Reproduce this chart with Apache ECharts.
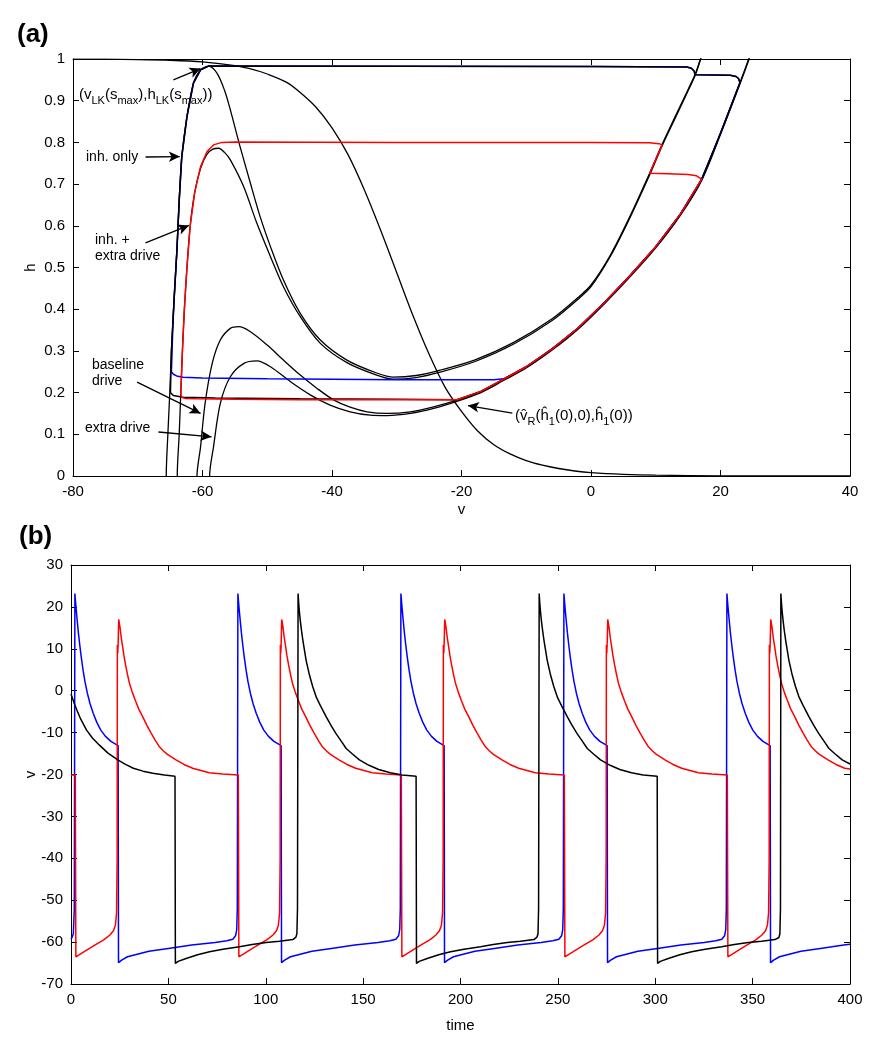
<!DOCTYPE html>
<html><head><meta charset="utf-8">
<script src="https://cdn.jsdelivr.net/npm/echarts/dist/echarts.min.js"></script>
<style>html,body{margin:0;padding:0;background:#fff}#c{width:884px;height:1050px}</style>
</head><body><div id="c"></div>
<script>
// ---------- Panel (a): phase plane (v, h) ----------
const hInfCurve = [[-80,0.9998],[-75,0.9994],[-70,0.9987],[-65,0.997],[-60,0.993],[-55,0.984],[-52,0.974],[-50,0.964],[-47,0.944],[-45,0.921],[-42.5,0.885],[-40,0.835],[-37.5,0.77],[-35,0.686],[-32.5,0.59],[-30,0.4875],[-27.5,0.385],[-25,0.292],[-22.5,0.212],[-20,0.155],[-17.5,0.108],[-15,0.075],[-12.5,0.053],[-10,0.037],[-7.5,0.026],[-5,0.018],[-2.5,0.012],[0,0.008],[5,0.004],[10,0.002],[20,0.0005],[30,0.0001],[40,0]];

const nullInhOnly = [[-65.6,-0.02],[-65.6,0],[-65.35,0.1],[-65.05,0.2],[-64.8,0.3],[-64.4,0.42],[-63.95,0.542],[-63.6,0.66],[-63.2,0.766],[-62.4,0.862],[-61.4,0.942],[-60.3,0.974],[-59.06,0.983],[-57.77,0.966],[-56.6,0.925],[-55.7,0.878],[-54.2,0.79],[-52.6,0.702],[-51.1,0.622],[-49.5,0.55],[-47.5,0.47],[-44.9,0.39],[-41.8,0.326],[-37.7,0.278],[-33.1,0.247],[-30.5,0.237],[-27,0.241],[-23.3,0.254],[-18,0.278],[-12,0.32],[-6,0.377],[-2,0.428],[0,0.458],[3,0.53],[6,0.622],[9,0.724],[11,0.796],[13,0.862],[15,0.927],[16.1,0.964],[16.9,1.0],[17.5,1.03]];

const nullInhExtra = [[-63.9,-0.02],[-63.9,0],[-63.6,0.1],[-63.35,0.2],[-63.1,0.3],[-62.8,0.4],[-62.4,0.5],[-61.9,0.6],[-61.2,0.68],[-60.3,0.738],[-59.3,0.772],[-58.4,0.784],[-57.5,0.786],[-56.6,0.776],[-55.7,0.758],[-53.65,0.694],[-51.6,0.606],[-49.5,0.526],[-47.5,0.454],[-44.9,0.382],[-41.8,0.318],[-37.7,0.272],[-33.1,0.242],[-30.5,0.232],[-27,0.236],[-23.3,0.249],[-18,0.274],[-12,0.316],[-6,0.373],[-2,0.424],[0,0.454],[3,0.527],[6,0.619],[9,0.72],[11,0.792],[13,0.858],[15,0.924],[16.1,0.961],[16.9,0.998],[17.5,1.03]];

const nullBaseline = [[-60.85,-0.02],[-60.85,0],[-60.3,0.07],[-59.6,0.174],[-58.5,0.27],[-57.25,0.326],[-55.7,0.354],[-54.4,0.358],[-52.6,0.346],[-50,0.314],[-47.5,0.278],[-44.9,0.242],[-42.3,0.21],[-39.7,0.182],[-37.2,0.165],[-34.6,0.154],[-31.5,0.15],[-27.9,0.154],[-24.3,0.166],[-20.7,0.182],[-17,0.203],[-13.5,0.232],[-10,0.262],[-6,0.305],[-2,0.355],[2,0.415],[6,0.48],[10,0.55],[13.8,0.628],[17.1,0.712],[20,0.822],[23,0.943],[24.35,1.0],[25,1.03]];

const nullExtra = [[-58.9,-0.02],[-58.9,0],[-58.3,0.07],[-57.25,0.174],[-55.7,0.238],[-53.6,0.27],[-51.6,0.276],[-49.5,0.262],[-46.4,0.226],[-43.3,0.194],[-40.3,0.17],[-37.2,0.154],[-34.1,0.146],[-31.5,0.145],[-27.9,0.15],[-24.3,0.162],[-20.7,0.179],[-17,0.2],[-13.5,0.229],[-10,0.259],[-6,0.302],[-2,0.352],[2,0.412],[6,0.477],[10,0.547],[13.8,0.625],[17.1,0.709],[20,0.819],[23,0.94],[24.35,0.997],[25,1.03]];

const trajBlueA = [[-64.8,0.25],[-64.6,0.35],[-64.4,0.42],[-63.95,0.542],[-63.6,0.66],[-63.2,0.766],[-62.4,0.862],[-61.4,0.942],[-60.3,0.974],[-59.06,0.983],[0,0.982],[14.8,0.981],[15.5,0.978],[15.9,0.972],[16.1,0.962],[21.5,0.961],[22.4,0.958],[22.8,0.953],[23,0.943],[20,0.822],[17.1,0.712],[13.8,0.628],[10,0.55],[6,0.48],[2,0.415],[-2,0.355],[-6,0.305],[-10,0.262],[-12,0.245],[-13.5,0.233],[-15,0.231],[-30,0.231],[-50,0.233],[-60,0.235],[-63,0.237],[-64,0.24],[-64.5,0.244],[-64.8,0.25]];

const trajBlackA = [[-64.95,0.2],[-64.8,0.3],[-64.4,0.42],[-63.95,0.542],[-63.6,0.66],[-63.2,0.766],[-62.4,0.862],[-61.4,0.942],[-60.3,0.974],[-59.06,0.983],[0,0.982],[14.8,0.981],[15.5,0.978],[15.9,0.972],[16.1,0.962],[21.5,0.961],[22.4,0.958],[22.8,0.953],[23,0.943],[20,0.822],[17.1,0.712],[13.8,0.628],[10,0.55],[6,0.48],[2,0.415],[-2,0.355],[-6,0.305],[-10,0.262],[-13.5,0.232],[-17,0.203],[-20.7,0.183],[-30,0.184],[-45,0.185],[-58,0.187],[-63,0.189],[-64.5,0.193],[-64.95,0.2]];

const trajRedA = [[-63.3,0.19],[-63.35,0.2],[-63.1,0.3],[-62.8,0.4],[-62.4,0.5],[-61.9,0.6],[-61.2,0.68],[-60.3,0.742],[-59.3,0.778],[-58.3,0.794],[-57,0.8],[-55,0.801],[-30,0.8],[0,0.8],[9,0.799],[10.5,0.797],[11,0.794],[9.05,0.726],[12,0.725],[15,0.723],[16.3,0.72],[17.1,0.712],[13.8,0.628],[10,0.55],[6,0.48],[2,0.415],[-2,0.355],[-6,0.305],[-10,0.262],[-13.5,0.232],[-17,0.203],[-20.7,0.183],[-30,0.183],[-45,0.183],[-55,0.184],[-61,0.185],[-62.6,0.186],[-63.1,0.188],[-63.3,0.19]];

// arrow annotations [from, to] in (v, h)
const arrowsA = [
  [[-64.5,0.950],[-60.3,0.977]],
  [[-68.8,0.765],[-63.5,0.766]],
  [[-68.8,0.559],[-62.1,0.601]],
  [[-70.1,0.225],[-60.3,0.150]],
  [[-66.8,0.1055],[-58.6,0.094]],
  [[-12.15,0.151],[-19.0,0.169]]
];

// ---------- Panel (b): time courses ----------
const vBlue = [[0,-59.3],[0.6,-58.8],[1.2,-58],[1.7,-52],
[2.0,23.2],[2.3,21.4],[2.7,19.2],[3.2,16.7],[3.8,13.8],[4.5,10.9],[5.3,7.9],[6.2,4.9],[7.2,2.1],[8.4,-0.6],[9.8,-3.1],[11.4,-5.4],[13.2,-7.5],[15.3,-9.4],[17.7,-10.9],[20.5,-12.1],[24.2,-13.1],
[24.4,-64.9],[26,-64.3],[29,-63.5],[34,-62.9],[40,-62.2],[50,-61.5],[62,-60.7],[74,-60.1],[80,-59.7],[83.1,-59.3],[84.5,-58.5],[85.1,-57],[85.4,-52],
[85.7,23.2],[86.0,21.4],[86.4,19.2],[86.9,16.7],[87.5,13.8],[88.2,10.9],[89.0,7.9],[89.9,4.9],[90.9,2.1],[92.1,-0.6],[93.5,-3.1],[95.1,-5.4],[96.9,-7.5],[99.0,-9.4],[101.4,-10.9],[104.2,-12.1],[107.9,-13.1],
[108.1,-64.9],[109.7,-64.3],[112.7,-63.5],[117.7,-62.9],[123.7,-62.2],[133.7,-61.5],[145.7,-60.7],[157.7,-60.1],[163.7,-59.7],[166.8,-59.3],[168.2,-58.5],[168.8,-57],[169.1,-52],
[169.4,23.2],[169.7,21.4],[170.1,19.2],[170.6,16.7],[171.2,13.8],[171.9,10.9],[172.7,7.9],[173.6,4.9],[174.6,2.1],[175.8,-0.6],[177.2,-3.1],[178.8,-5.4],[180.6,-7.5],[182.7,-9.4],[185.1,-10.9],[187.9,-12.1],[191.6,-13.1],
[191.8,-64.9],[193.4,-64.3],[196.4,-63.5],[201.4,-62.9],[207.4,-62.2],[217.4,-61.5],[229.4,-60.7],[241.4,-60.1],[247.4,-59.7],[250.5,-59.3],[251.9,-58.5],[252.5,-57],[252.8,-52],
[253.1,23.2],[253.4,21.4],[253.8,19.2],[254.3,16.7],[254.9,13.8],[255.6,10.9],[256.4,7.9],[257.3,4.9],[258.3,2.1],[259.5,-0.6],[260.9,-3.1],[262.5,-5.4],[264.3,-7.5],[266.4,-9.4],[268.8,-10.9],[271.6,-12.1],[275.3,-13.1],
[275.5,-64.9],[277.1,-64.3],[280.1,-63.5],[285.1,-62.9],[291.1,-62.2],[301.1,-61.5],[313.1,-60.7],[325.1,-60.1],[331.1,-59.7],[334.2,-59.3],[335.6,-58.5],[336.2,-57],[336.5,-52],
[336.8,23.2],[337.1,21.4],[337.5,19.2],[338.0,16.7],[338.6,13.8],[339.3,10.9],[340.1,7.9],[341.0,4.9],[342.0,2.1],[343.2,-0.6],[344.6,-3.1],[346.2,-5.4],[348.0,-7.5],[350.1,-9.4],[352.5,-10.9],[355.3,-12.1],[359.0,-13.1],
[359.2,-64.9],[360.8,-64.3],[363.8,-63.5],[368.8,-62.9],[374.8,-62.2],[384.8,-61.5],[396.8,-60.7],[400,-60.5]];

const vRed = [[0,-20.1],[2.2,-20.1],[2.5,-63.5],
[7,-62.2],[12,-60.8],[17,-59.4],[20,-58.3],[21.8,-57.3],[22.8,-56],[23.4,-53],[23.7,-40],[23.8,10.9],[24.0,8.9],[24.2,11],[24.5,17.0],
[25.2,15],[25.8,12.7],[26.5,10.5],[27.2,8.3],[28,6.2],[29,3.9],[30,1.8],[31.5,-0.4],[33,-2.3],[34.8,-4.4],[36.8,-6.2],[38.9,-8.2],[41,-10],[43.2,-11.8],[45.4,-13.4],[47.5,-14.4],[49.5,-15.2],[53.9,-16.5],[58,-17.6],[62.5,-18.5],[71,-19.6],[78,-19.9],[85.9,-20.1],[86.2,-63.5],
[90.7,-62.2],[95.7,-60.8],[100.7,-59.4],[103.7,-58.3],[105.5,-57.3],[106.5,-56],[107.1,-53],[107.4,-40],[107.5,10.9],[107.7,8.9],[107.9,11],[108.2,17.0],
[108.9,15],[109.5,12.7],[110.2,10.5],[110.9,8.3],[111.7,6.2],[112.7,3.9],[113.7,1.8],[115.2,-0.4],[116.7,-2.3],[118.5,-4.4],[120.5,-6.2],[122.6,-8.2],[124.7,-10],[126.9,-11.8],[129.1,-13.4],[131.2,-14.4],[133.2,-15.2],[137.6,-16.5],[141.7,-17.6],[146.2,-18.5],[154.7,-19.6],[161.7,-19.9],[169.6,-20.1],[169.9,-63.5],
[174.4,-62.2],[179.4,-60.8],[184.4,-59.4],[187.4,-58.3],[189.2,-57.3],[190.2,-56],[190.8,-53],[191.1,-40],[191.2,10.9],[191.4,8.9],[191.6,11],[191.9,17.0],
[192.6,15],[193.2,12.7],[193.9,10.5],[194.6,8.3],[195.4,6.2],[196.4,3.9],[197.4,1.8],[198.9,-0.4],[200.4,-2.3],[202.2,-4.4],[204.2,-6.2],[206.3,-8.2],[208.4,-10],[210.6,-11.8],[212.8,-13.4],[214.9,-14.4],[216.9,-15.2],[221.3,-16.5],[225.4,-17.6],[229.9,-18.5],[238.4,-19.6],[245.4,-19.9],[253.3,-20.1],[253.6,-63.5],
[258.1,-62.2],[263.1,-60.8],[268.1,-59.4],[271.1,-58.3],[272.9,-57.3],[273.9,-56],[274.5,-53],[274.8,-40],[274.9,10.9],[275.1,8.9],[275.3,11],[275.6,17.0],
[276.3,15],[276.9,12.7],[277.6,10.5],[278.3,8.3],[279.1,6.2],[280.1,3.9],[281.1,1.8],[282.6,-0.4],[284.1,-2.3],[285.9,-4.4],[287.9,-6.2],[290,-8.2],[292.1,-10],[294.3,-11.8],[296.5,-13.4],[298.6,-14.4],[300.6,-15.2],[305,-16.5],[309.1,-17.6],[313.6,-18.5],[322.1,-19.6],[329.1,-19.9],[337.0,-20.1],[337.3,-63.5],
[341.8,-62.2],[346.8,-60.8],[351.8,-59.4],[354.8,-58.3],[356.6,-57.3],[357.6,-56],[358.2,-53],[358.5,-40],[358.6,10.9],[358.8,8.9],[359.0,11],[359.3,17.0],
[360,15],[360.6,12.7],[361.3,10.5],[362,8.3],[362.8,6.2],[363.8,3.9],[364.8,1.8],[366.3,-0.4],[367.8,-2.3],[369.6,-4.4],[371.6,-6.2],[373.7,-8.2],[375.8,-10],[378,-11.8],[380.2,-13.4],[382.3,-14.4],[384.3,-15.2],[388.7,-16.5],[392.8,-17.6],[397.3,-18.5],[400,-18.7]];

const vBlack = [[0,-0.8],[1.5,-2.8],[3,-4.6],[5,-6.8],[8,-9.4],[11,-11.3],[14.6,-13],[19,-14.9],[24,-16.5],[28,-17.6],[32,-18.5],[37,-19.2],[42,-19.7],[48,-20.1],[53.4,-20.4],[53.6,-65.1],
[55,-64.6],[59.1,-63.9],[65,-63.0],[71.1,-62.3],[78,-61.7],[86.5,-61.1],[93,-60.6],[100.2,-60.1],[107,-59.8],[113.9,-59.4],[115.5,-58.8],[116.0,-58],[116.3,-52],
[116.6,23.2],[116.9,21],[117.3,18.7],[117.8,16.5],[118.4,14.2],[119.1,11.9],[119.9,9.6],[120.7,7.3],[122.3,4],[124.1,1.0],[126,-1.6],[128,-3.5],[131,-6.2],[133.5,-8.3],[136,-10.2],[139,-12.2],[141.3,-13.8],[144.5,-15.1],[148.1,-16.5],[153,-17.8],[158,-18.8],[164,-19.6],[170,-20.1],[177.2,-20.4],[177.4,-65.1],
[178.8,-64.6],[182.9,-63.9],[188.8,-63.0],[194.9,-62.3],[201.8,-61.7],[210.3,-61.1],[216.8,-60.6],[224.0,-60.1],[230.8,-59.8],[237.7,-59.4],[239.3,-58.8],[239.8,-58],[240.1,-52],
[240.4,23.2],[240.7,21],[241.1,18.7],[241.6,16.5],[242.2,14.2],[242.9,11.9],[243.7,9.6],[244.5,7.3],[246.1,4],[247.9,1.0],[249.8,-1.6],[251.8,-3.5],[254.8,-6.2],[257.3,-8.3],[259.8,-10.2],[262.8,-12.2],[265.1,-13.8],[268.3,-15.1],[271.9,-16.5],[276.8,-17.8],[281.8,-18.8],[287.8,-19.6],[293.8,-20.1],[301.0,-20.4],[301.2,-65.1],
[302.6,-64.6],[306.7,-63.9],[312.6,-63.0],[318.7,-62.3],[325.6,-61.7],[334.1,-61.1],[340.6,-60.6],[347.8,-60.1],[354.6,-59.8],[361.5,-59.4],[363.5,-58.9],[364.0,-58],[364.3,-52],
[364.5,23.2],[364.8,21],[365.2,18.7],[365.7,16.5],[366.3,14.2],[367,11.9],[367.8,9.6],[368.6,7.3],[370.2,4],[372,1.0],[373.9,-1.6],[375.9,-3.5],[378.9,-6.2],[381.4,-8.3],[383.9,-10.2],[386.9,-12.2],[389.2,-13.8],[392.4,-15.1],[396,-16.5],[400,-17.5]];

// ---------- chart ----------
const FONT = '"Liberation Sans", Arial, Helvetica, sans-serif';
const chart = echarts.init(document.getElementById('c'), null, {renderer: 'canvas', width: 884, height: 1050});

function axisBase(extra) {
  return Object.assign({
    type: 'value',
    nameMoveOverlap: false,
    axisLine: {show: true, onZero: false, lineStyle: {color: '#000', width: 1}},
    axisTick: {show: true, inside: true, length: 6, lineStyle: {color: '#000', width: 1}},
    axisLabel: {show: true, color: '#000', fontSize: 15, fontFamily: FONT, margin: 8, showMinLabel: true, showMaxLabel: true},
    splitLine: {show: false},
    nameTextStyle: {color: '#000', fontSize: 15, fontFamily: FONT}
  }, extra);
}
function mirror(extra) {
  const a = axisBase(extra);
  a.axisLabel = {show: false};
  return a;
}
function line(data, color, xi, yi, width, smooth, z) {
  return {type: 'line', data: data, xAxisIndex: xi, yAxisIndex: yi, showSymbol: false, symbol: 'none',
    smooth: smooth, clip: true, lineStyle: {color: color, width: width}, z: z || 2, silent: true, animation: false};
}

const arrowLines = arrowsA.map(p => [{coord: p[0], symbol: 'none'}, {coord: p[1], symbol: 'arrow', symbolSize: [8, 11]}]);

const seriesA = [
  line(hInfCurve, '#000', 0, 0, 1.3, 0.3, 2),
  line(nullInhOnly, '#000', 0, 0, 1.3, 0.3, 2),
  line(nullInhExtra, '#000', 0, 0, 1.3, 0.3, 2),
  line(nullBaseline, '#000', 0, 0, 1.3, 0.3, 2),
  line(nullExtra, '#000', 0, 0, 1.3, 0.3, 2),
  line(trajBlueA, '#0000ff', 0, 0, 1.5, false, 3),
  line(trajBlackA, '#000', 0, 0, 1.5, false, 4),
  line(trajRedA, '#ff0000', 0, 0, 1.5, false, 5)
];
seriesA[0].markLine = {silent: true, animation: false, symbol: ['none', 'arrow'], label: {show: false},
  lineStyle: {color: '#000', width: 1.3, type: 'solid'}, data: arrowLines};

const seriesB = [
  line(vBlue, '#0000ff', 2, 2, 1.5, false, 3),
  line(vRed, '#ff0000', 2, 2, 1.5, false, 4),
  line(vBlack, '#000', 2, 2, 1.5, false, 5)
];

const subRich = {
  n: {fontSize: 15, fontFamily: FONT, color: '#000', lineHeight: 22, verticalAlign: 'middle'},
  s: {fontSize: 11, fontFamily: FONT, color: '#000', lineHeight: 11, verticalAlign: 'bottom'}
};
function txt(x, y, text, opts) {
  return {type: 'text', x: x, y: y, silent: true, z: 10,
    style: Object.assign({text: text, fill: '#000', fontSize: 14, fontFamily: FONT,
      textAlign: 'left', textVerticalAlign: 'middle', align: 'left', verticalAlign: 'middle'}, opts || {})};
}

const option = {
  animation: false,
  backgroundColor: '#fff',
  grid: [
    {left: 73, right: 34, top: 59, height: 417, outerBoundsMode: 'none', containLabel: false},
    {left: 71, right: 34, top: 565, height: 419, outerBoundsMode: 'none', containLabel: false}
  ],
  xAxis: [
    axisBase({gridIndex: 0, position: 'bottom', min: -80, max: 40, interval: 20, name: 'v', nameLocation: 'middle', nameGap: 26}),
    mirror({gridIndex: 0, position: 'top', min: -80, max: 40, interval: 20}),
    axisBase({gridIndex: 1, position: 'bottom', min: 0, max: 400, interval: 50, name: 'time', nameLocation: 'middle', nameGap: 34}),
    mirror({gridIndex: 1, position: 'top', min: 0, max: 400, interval: 50})
  ],
  yAxis: [
    axisBase({gridIndex: 0, position: 'left', min: 0, max: 1, interval: 0.1, name: 'h', nameLocation: 'middle', nameGap: 35, nameRotate: 90}),
    mirror({gridIndex: 0, position: 'right', min: 0, max: 1, interval: 0.1}),
    axisBase({gridIndex: 1, position: 'left', min: -70, max: 30, interval: 10, name: 'v', nameLocation: 'middle', nameGap: 33, nameRotate: 90}),
    mirror({gridIndex: 1, position: 'right', min: -70, max: 30, interval: 10})
  ],
  series: seriesA.concat(seriesB),
  graphic: [
    txt(17, 35, '(a)', {fontSize: 26, fontWeight: 'bold'}),
    txt(19, 537, '(b)', {fontSize: 26, fontWeight: 'bold'}),
    txt(79, 95, '{n|(v}{s|LK}{n|(s}{s|max}{n|),h}{s|LK}{n|(s}{s|max}{n|))}', {rich: subRich}),
    txt(86, 157, 'inh. only'),
    txt(95, 248, 'inh. +\nextra drive', {lineHeight: 16}),
    txt(92, 373, 'baseline\ndrive', {lineHeight: 16}),
    txt(85, 428, 'extra drive'),
    txt(515, 416, '{n|(v\u0302}{s|R}{n|(\u0125}{s|1}{n|(0),0),\u0125}{s|1}{n|(0))}', {rich: subRich})
  ]
};
chart.setOption(option);
</script></body></html>
